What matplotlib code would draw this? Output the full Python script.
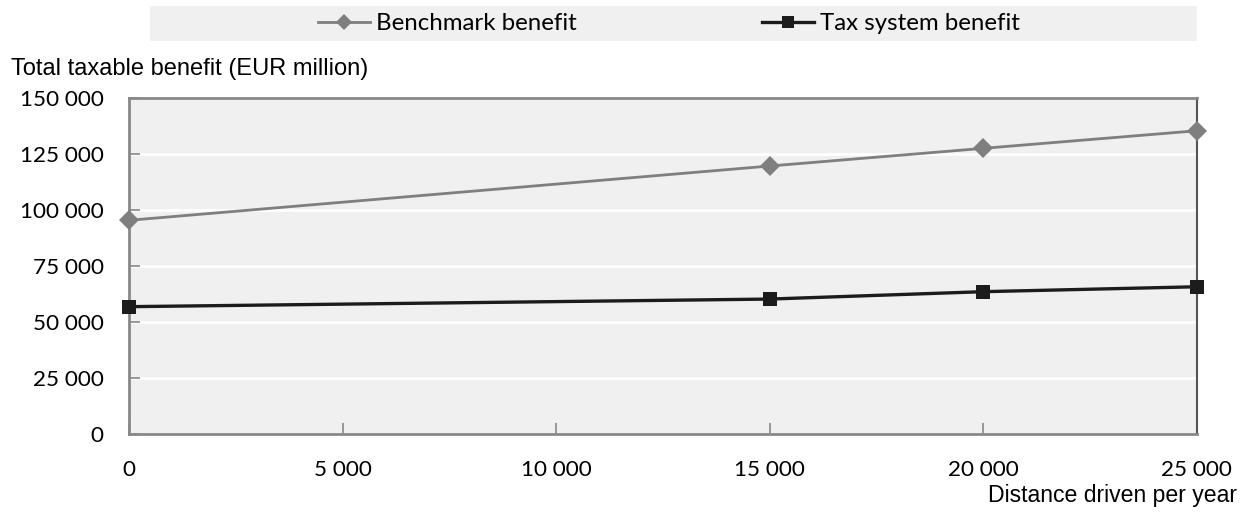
import matplotlib
matplotlib.use("Agg")
import matplotlib.pyplot as plt
from matplotlib.patches import Rectangle
from matplotlib.ticker import FuncFormatter, MultipleLocator

# Distance driven per year (km) and total taxable benefit (EUR million)
distance = [0, 15000, 20000, 25000]
benchmark_benefit = [95500, 119750, 127650, 135500]
tax_system_benefit = [56900, 60300, 63600, 65800]

series_labels = ["Benchmark benefit", "Tax system benefit"]
y_title = "Total taxable benefit (EUR million)"
x_title = "Distance driven per year"

num_font = "Lato"
txt_font = "Liberation Sans"

fig = plt.figure(figsize=(12.56, 5.12), dpi=100)
ax = fig.add_axes([0.1029, 0.1523, 0.8500, 0.6557])
ax.set_facecolor("#f0f0f0")

ax.plot(distance, benchmark_benefit, color="#7f7f7f", lw=2.0, marker="D",
        markersize=10, markeredgewidth=0, label=series_labels[0], zorder=3,
        clip_on=False)
ax.plot(distance, tax_system_benefit, color="#1c1c1c", lw=2.4, marker="s",
        markersize=10, markeredgewidth=0, label=series_labels[1], zorder=3,
        clip_on=False)

ax.set_xlim(0, 25000)
ax.set_ylim(0, 150000)
ax.xaxis.set_major_locator(MultipleLocator(5000))
ax.yaxis.set_major_locator(MultipleLocator(25000))
fmt = FuncFormatter(lambda v, p: f"{int(v):,}".replace(",", " "))
ax.xaxis.set_major_formatter(fmt)
ax.yaxis.set_major_formatter(fmt)

ax.grid(axis="y", color="white", lw=2.0)
ax.set_axisbelow(True)

for side in ("left", "bottom", "top"):
    ax.spines[side].set_color("#888888")
    ax.spines[side].set_linewidth(2.0)
ax.spines["right"].set_color("#555555")
ax.spines["right"].set_linewidth(1.5)

ax.tick_params(axis="y", direction="in", length=8, width=1.2, color="#888888",
               pad=18.5, labelsize=16.2)
ax.tick_params(axis="x", direction="in", length=8, width=1.2, color="#888888",
               pad=18.5, labelsize=16.2)
for lbl in ax.get_xticklabels() + ax.get_yticklabels():
    lbl.set_fontfamily(num_font)

fig.text(0.009, 0.866, y_title, fontsize=17, family=txt_font, va="center",
         ha="left")
fig.text(0.985, 0.033, x_title, fontsize=16.6, family=txt_font, va="center",
         ha="right")

# Legend band across the top
fig.patches.append(Rectangle((0.1194, 0.920), 0.8336, 0.0684,
                             transform=fig.transFigure, facecolor="#f0f0f0",
                             edgecolor="none", zorder=0))
leg = fig.legend(loc="center", bbox_to_anchor=(0.5326, 0.954), ncol=2,
                 frameon=False, handlelength=2.16, handletextpad=0.25,
                 columnspacing=7.7, markerscale=0.85,
                 prop={"family": num_font, "size": 17.3})

fig.savefig("out.png", dpi=100)
